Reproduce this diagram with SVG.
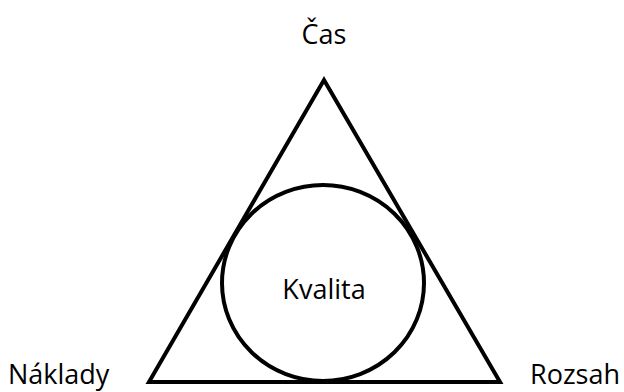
<svg xmlns="http://www.w3.org/2000/svg" width="624" height="392" viewBox="0 0 624 392">
<style>
.shape{fill:none;stroke:#000;stroke-width:4}
.lbl{font-family:"Open Sans","Liberation Sans",sans-serif;font-size:27px;fill:#000}
</style>
<rect width="624" height="392" fill="#fff"/>
<g id="connectors">
<polygon class="shape" points="324,80 149,382 500,382" stroke-linejoin="miter"/>
</g>
<g id="kvalita">
<ellipse class="shape" cx="323" cy="283" rx="101" ry="98"/>
<text class="lbl" x="324" y="299" text-anchor="middle">Kvalita</text>
</g>
<g id="cas">
<text class="lbl" x="324" y="44" text-anchor="middle">Čas</text>
</g>
<g id="naklady">
<text class="lbl" x="8" y="384">Náklady</text>
</g>
<g id="rozsah">
<text class="lbl" x="530" y="384">Rozsah</text>
</g>
</svg>
